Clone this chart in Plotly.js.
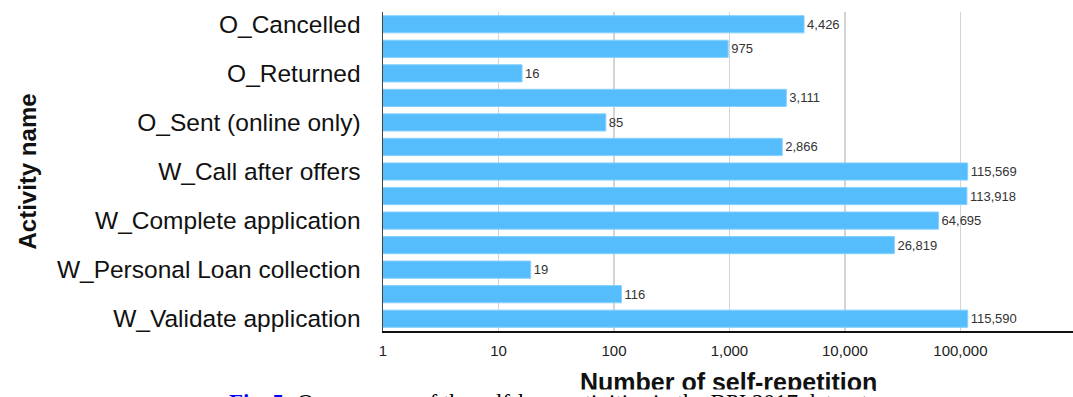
<!DOCTYPE html>
<html>
<head>
<meta charset="utf-8">
<script src="https://cdn.plot.ly/plotly-3.0.1.min.js"></script>
<style>
  html, body { margin: 0; padding: 0; background: #ffffff; }
  #chart { width: 1073px; height: 397px; }
</style>
</head>
<body>
<div id="chart"></div>
<script>
// Activities, top to bottom (only every other name is printed on the axis)
const activities = [
  "O_Cancelled",
  "O_Create Offer",
  "O_Returned",
  "O_Sent (mail and online)",
  "O_Sent (online only)",
  "W_Assess potential fraud",
  "W_Call after offers",
  "W_Call incomplete files",
  "W_Complete application",
  "W_Handle leads",
  "W_Personal Loan collection",
  "W_Shortened completion",
  "W_Validate application"
];
const selfRepetitions = [4426, 975, 16, 3111, 85, 2866, 115569, 113918, 64695, 26819, 19, 116, 115590];
const shownLabels = [
  "O_Cancelled",
  "O_Returned",
  "O_Sent (online only)",
  "W_Call after offers",
  "W_Complete application",
  "W_Personal Loan collection",
  "W_Validate application"
];
const xTickValues = [1, 10, 100, 1000, 10000, 100000];
const xTickLabels = ["1", "10", "100", "1,000", "10,000", "100,000"];

const xTitle = "Number of self-repetition";
const yTitle = "Activity name";
const captionFig = "Fig. 5:";
const captionText = "Occurrences of the self-loop activities in the BPI 2017 dataset.";

const trace = {
  type: "bar",
  orientation: "h",
  y: activities,
  x: selfRepetitions,
  marker: { color: "#55bdfc", line: { color: "#86d0fd", width: 1 } },
  text: selfRepetitions.map(v => v.toLocaleString("en-US")),
  textposition: "outside",
  textfont: { family: "Liberation Sans, Arial, sans-serif", size: 13, color: "#333333" },
  cliponaxis: false,
  hoverinfo: "x+y"
};

const fontFam = "Liberation Sans, Arial, Helvetica, sans-serif";

const layout = {
  width: 1073,
  height: 397,
  margin: { l: 383, r: 0, t: 12, b: 66 },
  paper_bgcolor: "#ffffff",
  plot_bgcolor: "#ffffff",
  showlegend: false,
  bargap: 0.3,
  font: { family: fontFam, color: "#111111" },
  xaxis: {
    type: "log",
    range: [0, 5.975],
    tickvals: xTickValues,
    ticktext: xTickLabels,
    tickfont: { family: fontFam, size: 15, color: "#222222" },
    ticks: "outside",
    ticklen: 5,
    tickcolor: "rgba(0,0,0,0)",
    showgrid: true,
    gridcolor: "#d4d4d4",
    gridwidth: 1.5,
    showline: true,
    linecolor: "#111111",
    linewidth: 1.5,
    zeroline: false,
    fixedrange: true
  },
  yaxis: {
    type: "category",
    categoryorder: "array",
    categoryarray: activities,
    autorange: "reversed",
    tickvals: shownLabels,
    ticktext: shownLabels,
    tickfont: { family: fontFam, size: 24.5, color: "#111111" },
    ticks: "outside",
    ticklen: 16,
    tickcolor: "rgba(0,0,0,0)",
    showgrid: false,
    showline: true,
    linecolor: "#444444",
    linewidth: 1.5,
    zeroline: false,
    fixedrange: true
  },
  annotations: [
    {
      text: xTitle,
      xref: "paper", yref: "paper",
      x: 0.5, y: -0.16,
      xanchor: "center", yanchor: "middle",
      showarrow: false,
      font: { family: fontFam, size: 25, color: "#111111", weight: "bold" }
    },
    {
      text: yTitle,
      xref: "paper", yref: "paper",
      x: -0.5145, y: 0.5,
      xanchor: "center", yanchor: "middle",
      textangle: -90,
      showarrow: false,
      font: { family: fontFam, size: 24, color: "#111111", weight: "bold" }
    },
    {
      text: "<b><span style='color:#0000ff'>" + captionFig + "</span></b> " + captionText,
      xref: "paper", yref: "paper",
      x: -0.2246, y: -0.1825,
      xanchor: "left", yanchor: "top",
      align: "left",
      showarrow: false,
      bgcolor: "#ffffff",
      borderpad: 0,
      font: { family: "Liberation Serif, Times New Roman, serif", size: 23, color: "#000000" }
    }
  ]
};

Plotly.newPlot("chart", [trace], layout, { displayModeBar: false, staticPlot: true });
</script>
</body>
</html>
